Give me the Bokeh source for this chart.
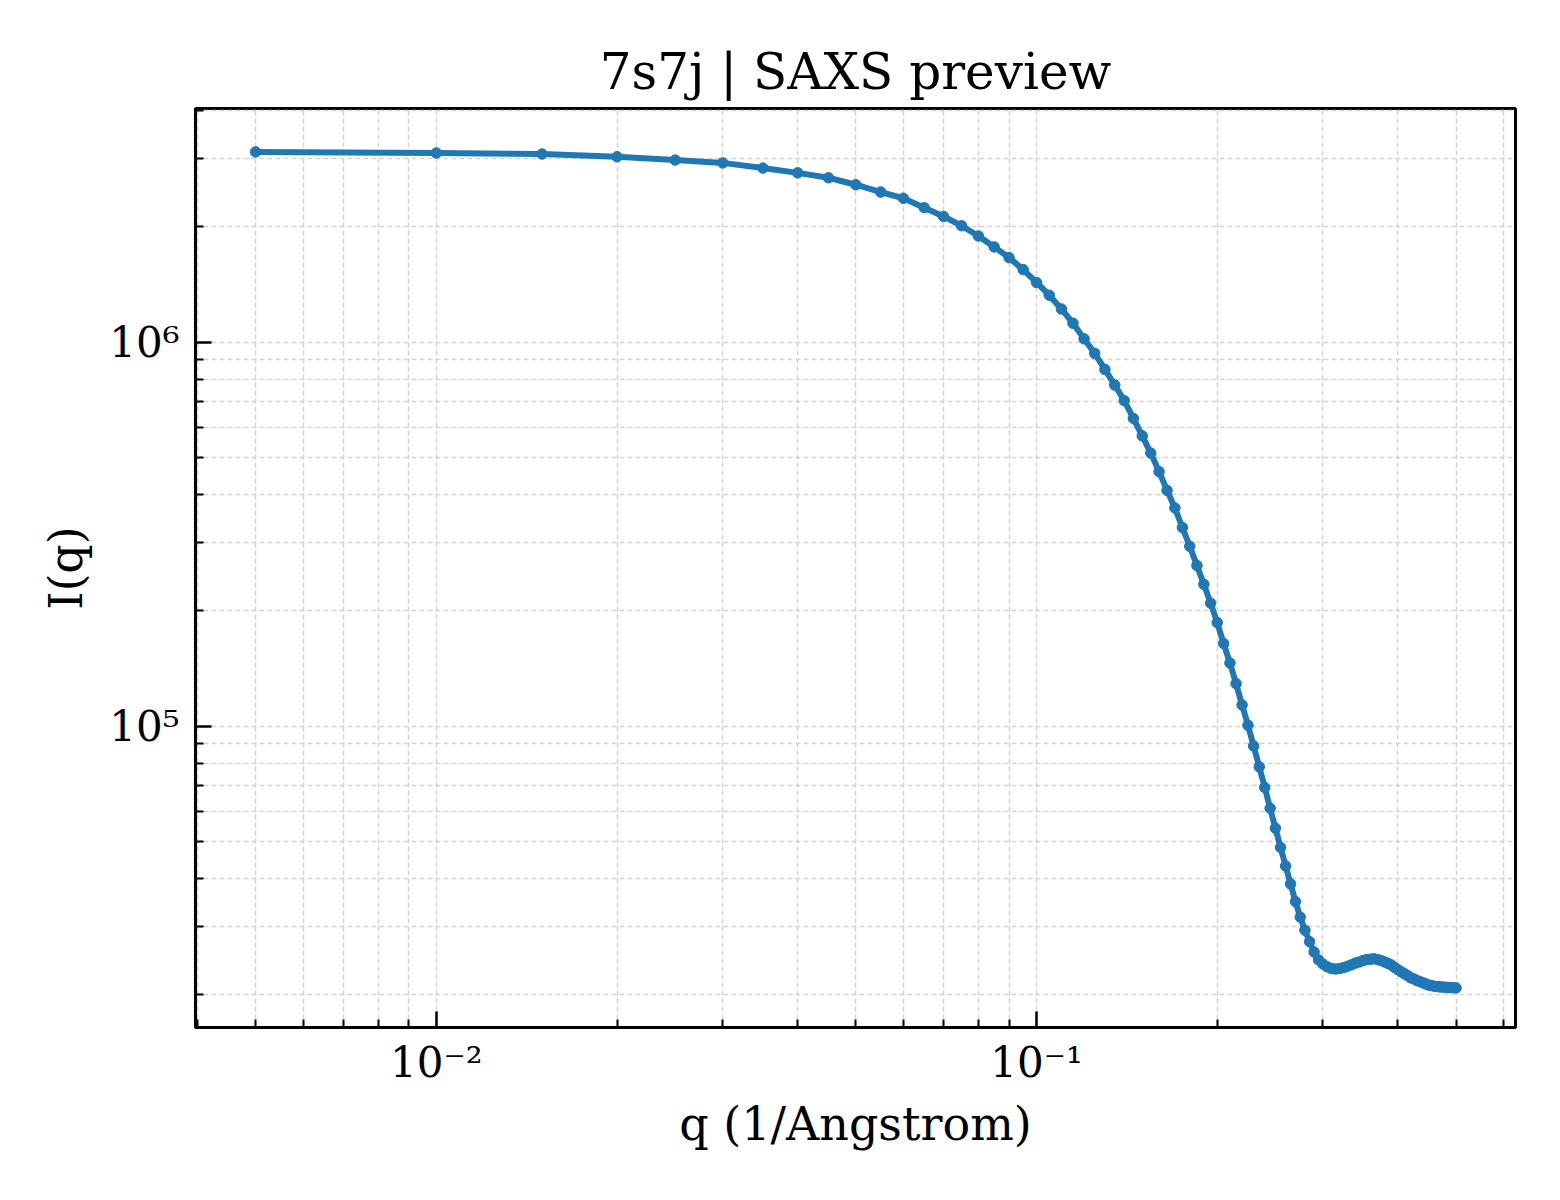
from bokeh.plotting import figure
from bokeh.models import Range1d, FixedTicker, CustomJSTickFormatter, ColumnDataSource
from bokeh.embed import file_html
from bokeh.resources import INLINE

q = [
    0.005, 0.010, 0.015, 0.020, 0.025, 0.030, 0.035, 0.040, 0.045, 0.050,
    0.055, 0.060, 0.065, 0.070, 0.075, 0.080, 0.085, 0.090, 0.095, 0.100,
    0.105, 0.110, 0.115, 0.120, 0.125, 0.130, 0.135, 0.140, 0.145, 0.150,
    0.155, 0.160, 0.165, 0.170, 0.175, 0.180, 0.185, 0.190, 0.195, 0.200,
    0.205, 0.210, 0.215, 0.220, 0.225, 0.230, 0.235, 0.240, 0.245, 0.250,
    0.255, 0.260, 0.265, 0.270, 0.275, 0.280, 0.285, 0.290, 0.295, 0.300,
    0.305, 0.310, 0.315, 0.320, 0.325, 0.330, 0.335, 0.340, 0.345, 0.350,
    0.355, 0.360, 0.365, 0.370, 0.375, 0.380, 0.385, 0.390, 0.395, 0.400,
    0.405, 0.410, 0.415, 0.420, 0.425, 0.430, 0.435, 0.440, 0.445, 0.450,
    0.455, 0.460, 0.465, 0.470, 0.475, 0.480, 0.485, 0.490, 0.495, 0.500,
]
intensity = [
    3.13e6, 3.11e6, 3.09e6, 3.04e6, 2.98e6, 2.93e6, 2.84e6, 2.76e6, 2.68e6, 2.57e6,
    2.46e6, 2.37e6, 2.24e6, 2.125e6, 2.01e6, 1.89e6, 1.77e6, 1.66e6, 1.545e6, 1.43e6,
    1.325e6, 1.22e6, 1.12e6, 1.02e6, 9.35e5, 8.49e5, 7.73e5, 7.04e5, 6.33e5, 5.70e5,
    5.14e5, 4.60e5, 4.11e5, 3.70e5, 3.29e5, 2.94e5, 2.62e5, 2.34e5, 2.09e5, 1.86e5,
    1.64e5, 1.46e5, 1.29e5, 1.135e5, 1.005e5, 8.87e4, 7.83e4, 6.92e4, 6.11e4, 5.42e4,
    4.83e4, 4.32e4, 3.88e4, 3.49e4, 3.18e4, 2.94e4, 2.745e4, 2.58e4, 2.46e4, 2.40e4,
    2.36e4, 2.335e4, 2.33e4, 2.335e4, 2.35e4, 2.37e4, 2.39e4, 2.415e4, 2.43e4, 2.45e4,
    2.465e4, 2.47e4, 2.477e4, 2.465e4, 2.45e4, 2.43e4, 2.41e4, 2.386e4, 2.35e4, 2.32e4,
    2.29e4, 2.265e4, 2.24e4, 2.21e4, 2.195e4, 2.175e4, 2.16e4, 2.145e4, 2.13e4, 2.115e4,
    2.11e4, 2.10e4, 2.096e4, 2.092e4, 2.09e4, 2.087e4, 2.085e4, 2.084e4, 2.082e4, 2.08e4,
]

x_major = [0.01, 0.1]
x_minor = [0.004, 0.005, 0.006, 0.007, 0.008, 0.009,
           0.02, 0.03, 0.04, 0.05, 0.06, 0.07, 0.08, 0.09,
           0.2, 0.3, 0.4, 0.5, 0.6]
y_major = [1e5, 1e6]
y_minor = [2e4, 3e4, 4e4, 5e4, 6e4, 7e4, 8e4, 9e4,
           2e5, 3e5, 4e5, 5e5, 6e5, 7e5, 8e5, 9e5,
           2e6, 3e6, 4e6]

FONT = "DejaVu Serif"
BLUE = "#1f77b4"

src = ColumnDataSource(data=dict(q=q, intensity=intensity))

p = figure(
    x_axis_type="log", y_axis_type="log",
    x_range=Range1d(0.00397, 0.628), y_range=Range1d(1.64e4, 4.06e6),
    frame_width=1320, frame_height=919,
    min_border_left=195, min_border_right=29,
    min_border_top=108, min_border_bottom=157,
    output_backend="svg", toolbar_location=None,
    title="7s7j | SAXS preview",
    x_axis_label="q (1/Angstrom)", y_axis_label="I(q)",
)
p.background_fill_color = "white"
p.border_fill_color = "white"
p.outline_line_color = "black"
p.outline_line_width = 3

p.title.text_font = FONT
p.title.text_font_size = "50px"
p.title.text_font_style = "normal"
p.title.text_color = "black"
p.title.align = "center"
p.title.standoff = 16

sup_code = """
const sup = {"-": "\u207b", "0": "\u2070", "1": "\u00b9", "2": "\u00b2", "3": "\u00b3",
             "4": "\u2074", "5": "\u2075", "6": "\u2076", "7": "\u2077", "8": "\u2078", "9": "\u2079"};
const e = Math.round(Math.log10(tick)).toString();
return "10" + e.split("").map(c => sup[c]).join("");
"""

p.xaxis.ticker = FixedTicker(ticks=x_major, minor_ticks=x_minor)
p.yaxis.ticker = FixedTicker(ticks=y_major, minor_ticks=y_minor)

for ax in (p.xaxis, p.yaxis):
    ax.formatter = CustomJSTickFormatter(code=sup_code)
    ax.axis_line_width = 3
    ax.axis_line_color = "black"
    ax.major_tick_in = 16
    ax.major_tick_out = 0
    ax.minor_tick_in = 8
    ax.minor_tick_out = 0
    ax.major_tick_line_width = 2.5
    ax.minor_tick_line_width = 2
    ax.major_label_text_font = FONT
    ax.major_label_text_font_size = "42px"
    ax.major_label_text_color = "black"
    ax.axis_label_text_font = FONT
    ax.axis_label_text_font_size = "46px"
    ax.axis_label_text_font_style = "normal"
    ax.axis_label_text_color = "black"

p.xaxis.major_label_standoff = 10
p.xaxis.axis_label_standoff = 7
p.yaxis.major_label_standoff = 16
p.yaxis.axis_label_standoff = 13

for g in (p.xgrid, p.ygrid):
    g.grid_line_color = "#d3d3d3"
    g.grid_line_dash = "5 3"
    g.grid_line_width = 1.5
    g.minor_grid_line_color = "#d3d3d3"
    g.minor_grid_line_dash = "5 3"
    g.minor_grid_line_width = 1.5

p.line("q", "intensity", source=src, line_color=BLUE, line_width=6)
p.scatter("q", "intensity", source=src, size=10.5, color=BLUE)

open("out.html", "w").write(file_html(p, INLINE))
